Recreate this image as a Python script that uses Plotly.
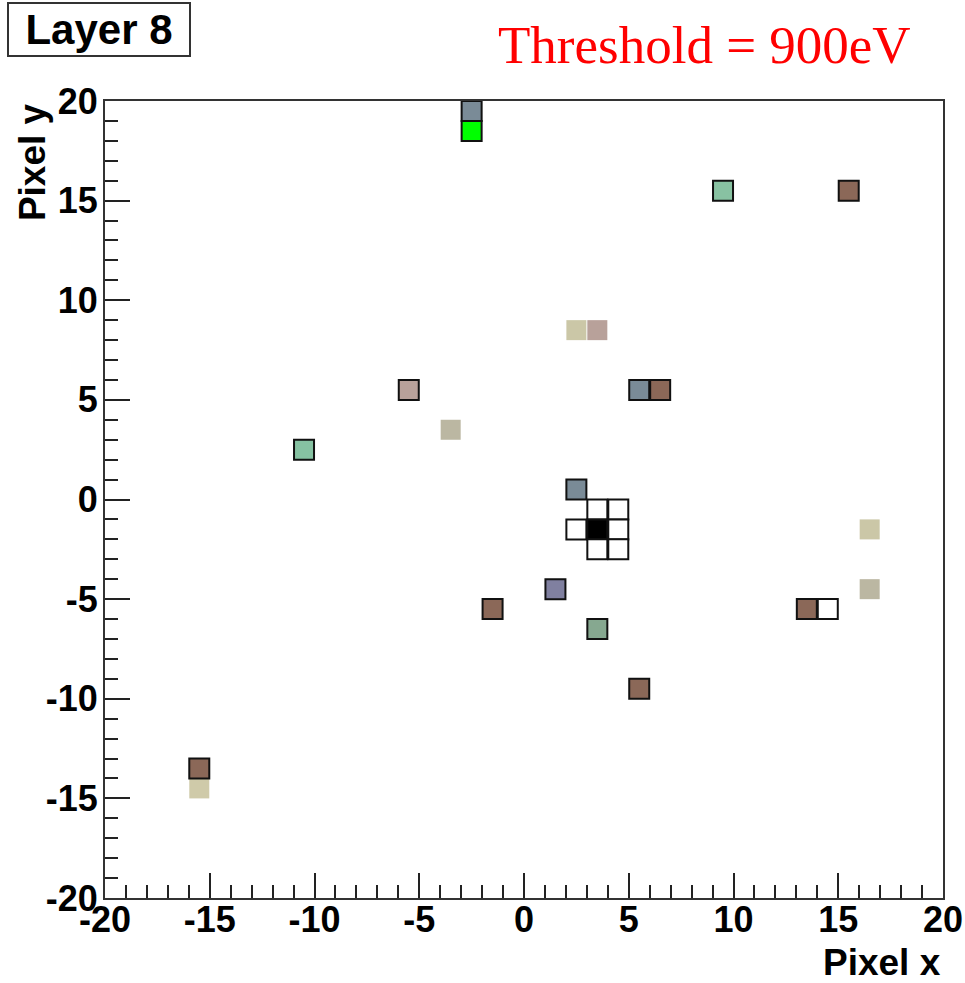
import plotly.graph_objects as go

# Cells drawn with a black outline (pixel centres and fill colours)
hit_x = [-2.5, -2.5, 9.5, 15.5, -5.5, 5.5, 6.5, -10.5, 2.5,
         3.5, 4.5, 2.5, 3.5, 4.5, 3.5, 4.5,
         1.5, -1.5, 3.5, 5.5, 13.5, 14.5, -15.5]
hit_y = [19.5, 18.5, 15.5, 15.5, 5.5, 5.5, 5.5, 2.5, 0.5,
         -0.5, -0.5, -1.5, -1.5, -1.5, -2.5, -2.5,
         -4.5, -5.5, -6.5, -9.5, -5.5, -5.5, -13.5]
hit_colors = ["#7a8b97", "#00ff00", "#88c2a2", "#8b6858", "#b8a19a", "#7a8b97", "#8b6858", "#86c2a2", "#7a8b97",
              "#ffffff", "#ffffff", "#ffffff", "#000000", "#ffffff", "#ffffff", "#ffffff",
              "#8080a0", "#8b6858", "#86a890", "#8b6858", "#8b6858", "#ffffff", "#8b6858"]

# Faint cells without outline
faint_x = [2.5, 3.5, -3.5, 16.5, 16.5, -15.5]
faint_y = [8.5, 8.5, 3.5, -1.5, -4.5, -14.5]
faint_colors = ["#cbc7a7", "#b8a19a", "#bbb7a2", "#cbc7a7", "#bbb7a2", "#cfcaa9"]

axis_min, axis_max = -20, 20
minor_step = 1
tick_vals = [-20, -15, -10, -5, 0, 5, 10, 15, 20]
tick_labels = ["-20", "-15", "-10", "-5", "0", "5", "10", "15", "20"]

fig = go.Figure()
fig.add_trace(go.Scatter(
    x=faint_x, y=faint_y, mode="markers",
    marker=dict(symbol="square", size=20, color=faint_colors, line=dict(width=0)),
    showlegend=False, hoverinfo="x+y"))
fig.add_trace(go.Scatter(
    x=hit_x, y=hit_y, mode="markers",
    marker=dict(symbol="square", size=20, color=hit_colors, line=dict(width=2, color="#111111")),
    showlegend=False, hoverinfo="x+y"))

tickfont = dict(family="Liberation Sans", size=36, color="black", weight="bold")
axis_common = dict(
    range=[axis_min, axis_max], tickmode="array", tickvals=tick_vals, ticktext=tick_labels,
    ticks="inside", ticklen=25, tickwidth=2, tickcolor="#222222",
    minor=dict(dtick=minor_step, tick0=axis_min, ticks="inside", ticklen=13, tickwidth=2,
               tickcolor="#222222", showgrid=False),
    showline=True, linecolor="#333333", linewidth=2, mirror=True,
    showgrid=False, zeroline=False, tickfont=tickfont, automargin=False,
)

fig.update_layout(
    width=965, height=983,
    margin=dict(l=105, r=22, t=101, b=85),
    paper_bgcolor="white", plot_bgcolor="white",
    xaxis=dict(**axis_common, ticklabelstandoff=-11),
    yaxis=dict(**axis_common, ticklabelstandoff=-2),
    annotations=[
        dict(text="Pixel x", xref="paper", yref="paper", x=1.0, y=-0.081,
             xanchor="right", yanchor="middle", showarrow=False,
             font=dict(family="Liberation Sans", size=37, color="black", weight="bold")),
        dict(text="Pixel y", xref="paper", yref="paper", x=-0.087, y=1.0,
             xanchor="center", yanchor="top", textangle=-90, showarrow=False,
             font=dict(family="Liberation Sans", size=37, color="black", weight="bold")),
        dict(text="Layer 8", xref="paper", yref="paper", x=-0.117, y=1.1242,
             xanchor="left", yanchor="top", showarrow=False,
             width=180, height=51, borderpad=0, borderwidth=2, bordercolor="#333333",
             bgcolor="white", align="center",
             font=dict(family="Liberation Sans", size=42, color="black", weight="bold")),
        dict(text="Threshold = 900eV", xref="paper", yref="paper", x=0.9642, y=1.070,
             xanchor="right", yanchor="middle", showarrow=False,
             font=dict(family="Liberation Serif", size=53, color="red")),
    ],
)

fig.write_html("out.html", config={"displayModeBar": False},
               post_script="document.body.style.margin='0';")
